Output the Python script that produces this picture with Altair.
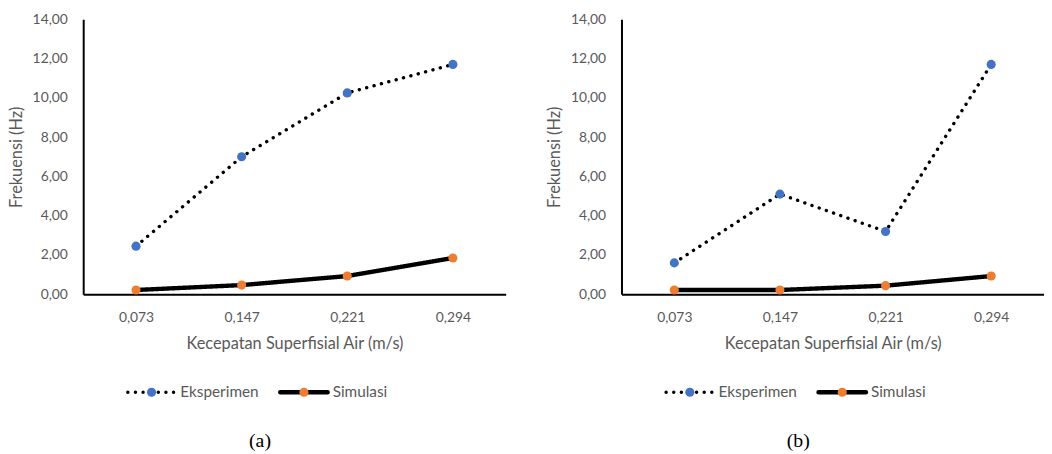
import altair as alt
import pandas as pd

categories = ["0,073", "0,147", "0,221", "0,294"]
series_names = ["Eksperimen", "Simulasi"]
eksperimen_a = [2.45, 7.0, 10.25, 11.7]
simulasi_a = [0.22, 0.47, 0.93, 1.85]
eksperimen_b = [1.6, 5.1, 3.2, 11.7]
simulasi_b = [0.22, 0.22, 0.44, 0.93]
y_ticks = [0, 2, 4, 6, 8, 10, 12, 14]
captions = ["(a)", "(b)"]
x_title = "Kecepatan Superfisial Air (m/s)"
y_title = "Frekuensi (Hz)"

GRAY = "#595959"
BLUE = "#4472C4"
ORANGE = "#ED7D31"
FONT = "Lato"

dash = alt.StrokeDash("series:N", scale=alt.Scale(domain=series_names, range=[[0.1, 7.6], [1, 0]]), legend=None)
sw = alt.StrokeWidth("series:N", scale=alt.Scale(domain=series_names, range=[3.4, 4.4]), legend=None)
color = alt.Color("series:N", scale=alt.Scale(domain=series_names, range=[BLUE, ORANGE]), legend=None)


def panel(eks, sim, caption, width):
    df = pd.DataFrame({
        "cat": categories * 2,
        "series": [series_names[0]] * len(categories) + [series_names[1]] * len(categories),
        "value": eks + sim,
    })
    x = alt.X("cat:O", sort=categories, scale=alt.Scale(type="point", padding=0.5),
              axis=alt.Axis(title=x_title, labelAngle=0, ticks=False, tickSize=0, labelPadding=16,
                            titlePadding=12, domainColor="black", domainWidth=2, grid=False))
    y = alt.Y("value:Q", scale=alt.Scale(domain=[0, 14], nice=False),
              axis=alt.Axis(values=y_ticks, labelExpr="replace(format(datum.value, '.2f'), '.', ',')",
                            title=y_title, ticks=False, tickSize=0, labelPadding=16, titlePadding=8,
                            domainColor="black", domainWidth=2, grid=False))
    lines = alt.Chart(df).mark_line(color="black", strokeCap="round", strokeJoin="round").encode(
        x=x, y=y, strokeDash=dash, strokeWidth=sw, detail="series:N")
    pts = alt.Chart(df).mark_circle(size=85, opacity=1).encode(x=x, y=y, color=color)
    main = alt.layer(lines, pts).properties(width=width, height=278)

    leg_df = pd.DataFrame({"series": series_names})
    lx = alt.X("series:N", sort=series_names,
               scale=alt.Scale(type="point", padding=0.886, align=0.253), axis=None)
    rule = alt.Chart(leg_df).mark_rule(color="black", strokeCap="round", xOffset=-24, x2Offset=24).encode(
        x=lx, x2=alt.X2("series:N"), y=alt.value(10), strokeDash=dash, strokeWidth=sw)
    lpts = alt.Chart(leg_df).mark_circle(size=85, opacity=1).encode(x=lx, y=alt.value(10), color=color)
    ltxt = alt.Chart(leg_df).mark_text(align="left", baseline="middle", dx=29, font=FONT, fontSize=15.5,
                                       color=GRAY).encode(x=lx, y=alt.value(10), text="series:N")
    legend = alt.layer(rule, lpts, ltxt).properties(width=width, height=20)

    return alt.vconcat(main, legend, spacing=89, bounds="flush").properties(
        title=alt.TitleParams(text=caption, orient="bottom", font="Liberation Serif", fontSize=20,
                              fontWeight="normal", color="black", offset=29, anchor="middle", dx=3))


chart = alt.hconcat(
    panel(eksperimen_a, simulasi_a, captions[0], 427),
    panel(eksperimen_b, simulasi_b, captions[1], 427),
    spacing=41,
).properties(
    padding={"left": 0, "top": 2, "right": 0, "bottom": 0}
).configure_view(stroke=None).configure_axis(
    labelFont=FONT, labelFontSize=14, labelColor=GRAY,
    titleFont=FONT, titleFontSize=16.5, titleColor=GRAY, titleFontWeight="normal"
)

chart.save("out.html", embed_options={"renderer": "svg", "actions": False})
